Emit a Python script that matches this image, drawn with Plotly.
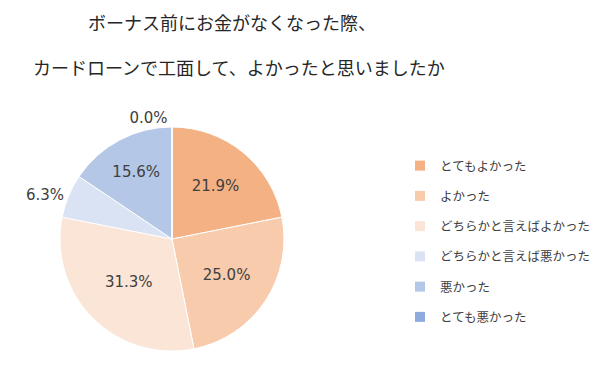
import plotly.graph_objects as go

categories = ["とてもよかった", "よかった", "どちらかと言えばよかった",
              "どちらかと言えば悪かった", "悪かった", "とても悪かった"]
values = [21.9, 25.0, 31.3, 6.3, 15.6, 0.0]
colors = ["#F4B183", "#F8CBAD", "#FBE5D6", "#DAE3F3", "#B4C7E7", "#8FAADC"]
text_positions = ["inside", "inside", "inside", "outside", "inside", "outside"]
title_lines = ["ボーナス前にお金がなくなった際、",
               "カードローンで工面して、よかったと思いましたか"]

W, H = 600, 366
cx, cy, r = 172, 239, 112

fig = go.Figure()
fig.add_trace(go.Pie(
    labels=categories, values=values, sort=False, direction="clockwise",
    rotation=0, marker=dict(colors=colors, line=dict(color="white", width=1)),
    texttemplate="%{value:.1f}%", textposition=text_positions,
    insidetextorientation="horizontal",
    textfont=dict(family="DejaVu Sans", size=15, color="#404040"),
    showlegend=False, hoverinfo="label+value",
    domain=dict(x=[(cx - r) / W, (cx + r) / W],
                y=[(H - cy - r) / H, (H - cy + r) / H]),
))

for cat, col in zip(categories, colors):
    fig.add_trace(go.Scatter(
        x=[None], y=[None], mode="markers", name=cat, legendgroup=cat,
        marker=dict(symbol="square", size=10, color=col),
    ))

fig.add_annotation(text=title_lines[0], x=86 / W, y=1 - 22 / H, xref="paper", yref="paper",
                   xanchor="left", yanchor="middle", showarrow=False,
                   font=dict(family="Noto Sans CJK JP", size=18, color="#262626"))
fig.add_annotation(text=title_lines[1], x=31 / W, y=1 - 67 / H, xref="paper", yref="paper",
                   xanchor="left", yanchor="middle", showarrow=False,
                   font=dict(family="Noto Sans CJK JP", size=18, color="#262626"))

fig.update_layout(
    width=W, height=H, margin=dict(l=0, r=0, t=0, b=0, autoexpand=False),
    paper_bgcolor="white", plot_bgcolor="white",
    xaxis=dict(visible=False), yaxis=dict(visible=False),
    legend=dict(x=400 / W, y=1 - 151 / H, xanchor="left", yanchor="top",
                font=dict(family="Noto Sans CJK JP", size=12.5, color="#404040"),
                tracegroupgap=11, itemwidth=30, bgcolor="rgba(0,0,0,0)"),
)

fig.write_html("out.html", config={"displayModeBar": False},
               post_script="document.body.style.margin='0';")
